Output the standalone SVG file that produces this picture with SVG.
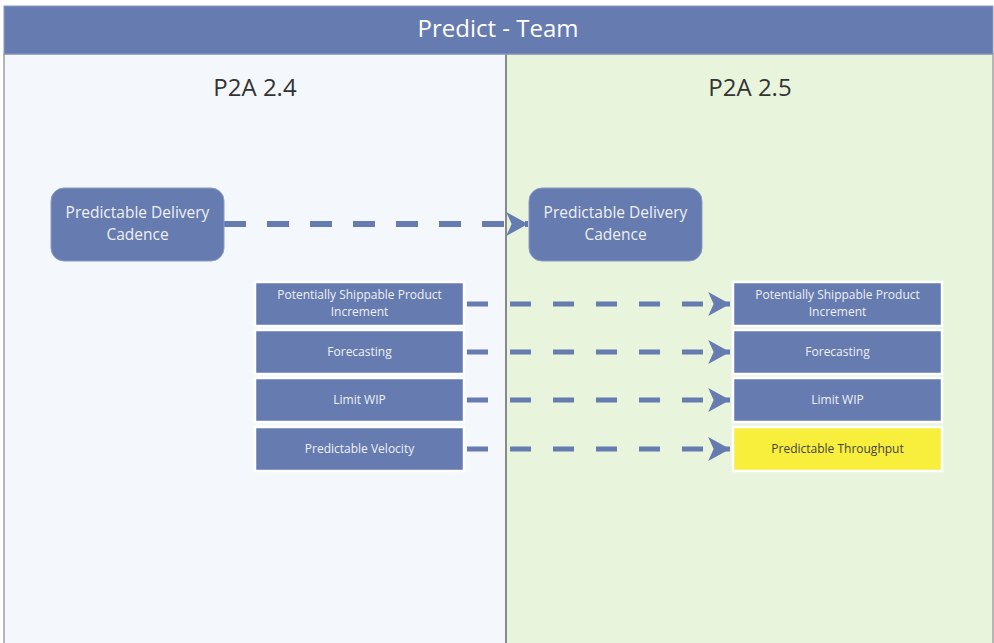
<svg xmlns="http://www.w3.org/2000/svg" width="994" height="643" viewBox="0 0 994 643">
  <defs>
    <style>
      .lane-l { fill: #f4f8fc; stroke: #a0a0a0; stroke-width: 1.5; }
      .lane-r { fill: #e8f5dc; stroke: #a0a0a0; stroke-width: 1.5; }
      .header { fill: #667bb0; stroke: #8a9ac4; stroke-width: 1; }
      .htext { font-family: "Open Sans", "Liberation Sans", sans-serif; font-size: 24px; fill: #ffffff; text-anchor: middle; }
      .ltext { font-family: "Open Sans", "Liberation Sans", sans-serif; font-size: 24px; fill: #333333; text-anchor: middle; }
      .big { fill: #667bb0; stroke: #8a9ac4; stroke-width: 1; }
      .bigtext { font-family: "Open Sans", "Liberation Sans", sans-serif; font-size: 15.5px; font-weight: 500; fill: #eef0f6; text-anchor: middle; }
      .small { fill: #667bb0; stroke: #ffffff; stroke-width: 2.5; }
      .smalltext { font-family: "Open Sans", "Liberation Sans", sans-serif; font-size: 12px; font-weight: 500; fill: #eef0f6; text-anchor: middle; }
      .yellow { fill: #f8ee3c; stroke: #ffffff; stroke-width: 2.5; }
      .ytext { font-family: "Open Sans", "Liberation Sans", sans-serif; font-size: 12px; font-weight: 500; fill: #444444; text-anchor: middle; }
      .conn-big { fill: none; stroke: #667bb0; stroke-width: 6; stroke-dasharray: 22 21; }
      .conn { fill: none; stroke: #667bb0; stroke-width: 5; stroke-dasharray: 21 22; }
    </style>
    <marker id="arrow" markerUnits="userSpaceOnUse" markerWidth="22" markerHeight="24" viewBox="0 0 20 22" refX="20" refY="11" orient="auto">
      <path d="M0,0 L20,11 L0,22 L5,11 Z" fill="#667bb0"/>
    </marker>
  </defs>

  <rect x="0" y="0" width="994" height="643" fill="#ffffff"/>

  <g id="pool">
    <rect class="lane-l" x="4" y="54" width="502" height="600"/>
    <rect class="lane-r" x="506" y="54" width="487" height="600"/>
    <line x1="506" y1="54" x2="506" y2="643" stroke="#8a8a8a" stroke-width="2"/>
    <rect class="header" x="4" y="6" width="989" height="48"/>
    <text class="htext" x="498" y="37">Predict - Team</text>
    <text class="ltext" x="255" y="96">P2A 2.4</text>
    <text class="ltext" x="750" y="96">P2A 2.5</text>
  </g>

  <g id="connectors">
    <line class="conn-big" x1="224" y1="224" x2="528" y2="224" marker-end="url(#arrow)"/>
    <line class="conn" x1="467" y1="304" x2="730" y2="304" marker-end="url(#arrow)"/>
    <line class="conn" x1="467" y1="352" x2="730" y2="352" marker-end="url(#arrow)"/>
    <line class="conn" x1="467" y1="400" x2="730" y2="400" marker-end="url(#arrow)"/>
    <line class="conn" x1="467" y1="449" x2="730" y2="449" marker-end="url(#arrow)"/>
  </g>

  <g id="pdc-24">
    <rect class="big" x="51" y="188" width="173" height="73" rx="13"/>
    <text class="bigtext" x="137.5" y="218">Predictable Delivery</text>
    <text class="bigtext" x="137.5" y="240">Cadence</text>
  </g>
  <g id="pdc-25">
    <rect class="big" x="529" y="188" width="173" height="73" rx="13"/>
    <text class="bigtext" x="615.5" y="218">Predictable Delivery</text>
    <text class="bigtext" x="615.5" y="240">Cadence</text>
  </g>

  <g id="psi-24">
    <rect class="small" x="255" y="282" width="209" height="44"/>
    <text class="smalltext" x="359.5" y="299">Potentially Shippable Product</text>
    <text class="smalltext" x="359.5" y="316">Increment</text>
  </g>
  <g id="fc-24">
    <rect class="small" x="255" y="330" width="209" height="44"/>
    <text class="smalltext" x="359.5" y="356">Forecasting</text>
  </g>
  <g id="wip-24">
    <rect class="small" x="255" y="378" width="209" height="44"/>
    <text class="smalltext" x="359.5" y="404">Limit WIP</text>
  </g>
  <g id="pv-24">
    <rect class="small" x="255" y="427" width="209" height="44"/>
    <text class="smalltext" x="359.5" y="453">Predictable Velocity</text>
  </g>

  <g id="psi-25">
    <rect class="small" x="733" y="282" width="209" height="44"/>
    <text class="smalltext" x="837.5" y="299">Potentially Shippable Product</text>
    <text class="smalltext" x="837.5" y="316">Increment</text>
  </g>
  <g id="fc-25">
    <rect class="small" x="733" y="330" width="209" height="44"/>
    <text class="smalltext" x="837.5" y="356">Forecasting</text>
  </g>
  <g id="wip-25">
    <rect class="small" x="733" y="378" width="209" height="44"/>
    <text class="smalltext" x="837.5" y="404">Limit WIP</text>
  </g>
  <g id="pt-25">
    <rect class="yellow" x="733" y="427" width="209" height="44"/>
    <text class="ytext" x="837.5" y="453">Predictable Throughput</text>
  </g>
</svg>
